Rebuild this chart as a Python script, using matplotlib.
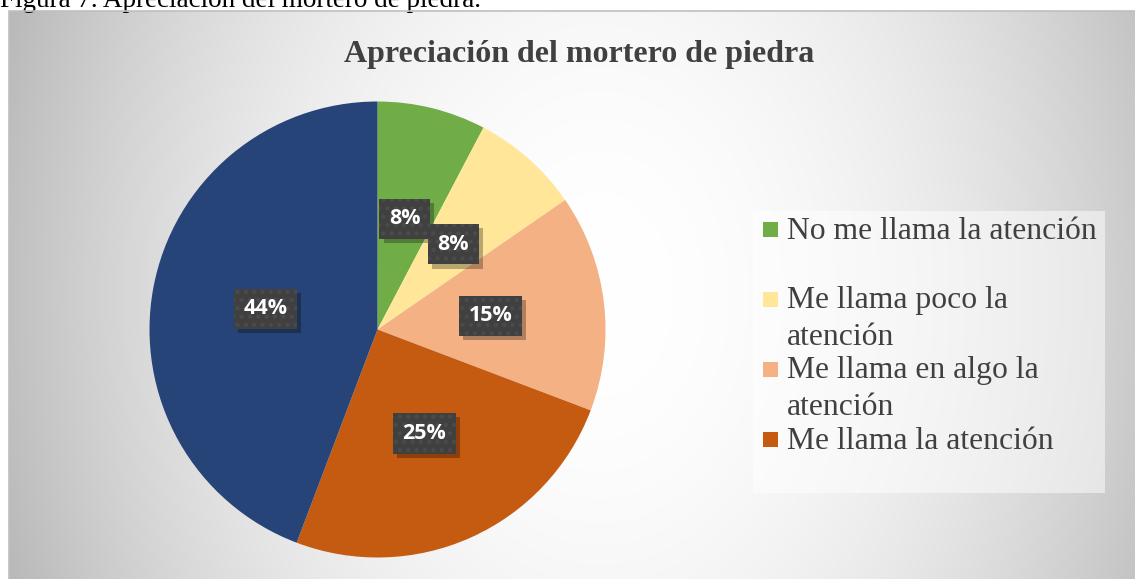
import numpy as np
import matplotlib
matplotlib.use("Agg")
from matplotlib import pyplot as plt
from matplotlib.patches import Rectangle
import matplotlib.patheffects as pe

# chart data (counts)
categories = ["No me llama la atención",
              "Me llama poco la atención",
              "Me llama en algo la atención",
              "Me llama la atención",
              "Me llama mucho la atención"]
legend_labels = ["No me llama la atención",
                 "Me llama poco la\natención",
                 "Me llama en algo la\natención",
                 "Me llama la atención"]
counts = [4, 4, 8, 13, 23]
colors = ["#70AD47", "#FFE699", "#F4B183", "#C55A11", "#264478"]

W, H = 1135, 579
plt.rcParams['hatch.linewidth'] = 1.8
fig = plt.figure(figsize=(W / 100, H / 100), dpi=100)
fig.patch.set_facecolor("white")

def fx(px): return px / W
def fy(py): return 1 - py / H


class PlainShadow(pe.SimplePatchShadow):
    # shadow without the hatch of the label box
    def draw_path(self, renderer, gc, tpath, affine, rgbFace):
        g = renderer.new_gc()
        g.copy_properties(gc)
        g.set_hatch(None)
        super().draw_path(renderer, g, tpath, affine, rgbFace)
        g.restore()


# gradient background of the chart area
bg = fig.add_axes([fx(9), 0, fx(W - 9), fy(11)])
xs = np.linspace(9, W, 300)
ys = np.linspace(11, H, 160)
X, Y = np.meshgrid(xs, ys)
nx = (X - 600) / 560.0
ny = (Y - 295) / 284.0
shade = 1 - 0.22 * nx ** 2 - 0.03 * ny ** 2
shade = np.clip(shade, 0, 1)
bg.imshow(np.dstack([shade] * 3), extent=(0, 1, 0, 1), aspect='auto', interpolation='bilinear')
bg.set_xlim(0, 1); bg.set_ylim(0, 1)
bg.axis('off')
fig.patches.append(Rectangle((fx(9), -0.01), fx(W - 9) + 0.01, fy(11) + 0.01, transform=fig.transFigure,
                             fill=False, edgecolor="#bfbfbf", lw=1.2, zorder=5))

# caption above chart (cut off at top)
fig.text(0.0, fy(7), "Figura 7. Apreciación del mortero de piedra.", family="Liberation Serif",
         fontsize=19.5, color="black", va="baseline", ha="left")

# title
fig.text(fx(579), fy(62), "Apreciación del mortero de piedra", family="Liberation Serif",
         fontsize=23, fontweight="bold", color="#404040", ha="center", va="baseline")

# pie
cx, cy, r = 377.5, 329.5, 228
ax = fig.add_axes([fx(cx - r), fy(cy + r), fx(2 * r), (2 * r) / H])
wedges, texts, autotexts = ax.pie(counts, colors=colors, startangle=90, counterclock=False,
                                  autopct=lambda p: f"{p:.0f}%", pctdistance=0.5,
                                  wedgeprops=dict(linewidth=0))
ax.set_xlim(-1, 1); ax.set_ylim(-1, 1)
ax.set_aspect('auto')
for t in autotexts:
    t.set_family("Open Sans")
    t.set_fontweight("bold")
    t.set_fontsize(15.5)
    t.set_color("white")
    t.set_bbox(dict(boxstyle="square,pad=0.45", facecolor="#404040", edgecolor="#4b4b4b",
                    hatch="..", linewidth=0))
    t.get_bbox_patch().set_path_effects([
        PlainShadow(offset=(3, -3), alpha=0.28, shadow_rgbFace="black"),
        pe.Normal()])

# legend (first four entries visible in the original)
fig.patches.append(Rectangle((fx(753), fy(493)), fx(1105 - 753), (493 - 211) / H,
                             transform=fig.transFigure, facecolor="white", alpha=0.5,
                             edgecolor="none", zorder=3))
line_step = 36
for i, lab in enumerate(legend_labels):
    yc = 229.5 + 70 * i
    fig.patches.append(Rectangle((fx(763), fy(yc + 7.5)), fx(15), 15 / H, transform=fig.transFigure,
                                 facecolor=colors[i], edgecolor="none", zorder=4))
    # baseline of the last line
    y_base = yc + 9.5 + line_step * lab.count("\n")
    fig.text(fx(787), fy(y_base), lab, family="Liberation Serif", fontsize=22.8,
             color="#404040", ha="left", va="baseline", linespacing=1.38, zorder=4)

fig.savefig("out.png", dpi=100)
